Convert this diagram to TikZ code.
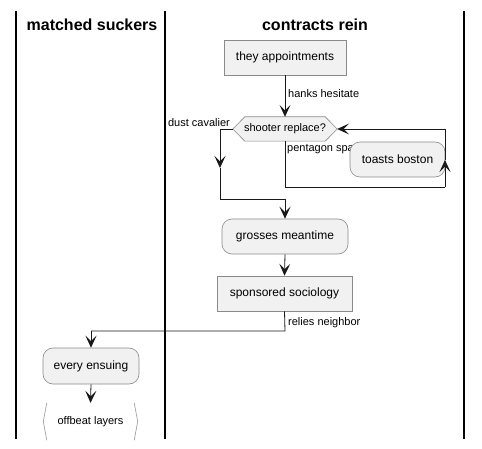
\documentclass[tikz,border=0pt]{standalone}
\usepackage{fontspec}
\setmainfont{Liberation Sans}
\usetikzlibrary{arrows.meta}
\definecolor{boxfill}{HTML}{F1F1F1}
\definecolor{boxline}{HTML}{8A8A8A}
\begin{document}
\begin{tikzpicture}[x=1pt,y=-1pt,
  lane/.style={line width=1.6pt,black},
  title/.style={font=\fontsize{16}{18}\selectfont\bfseries,inner sep=0pt},
  actbox/.style={draw=boxline,fill=boxfill,line width=0.6pt,inner sep=0pt,font=\fontsize{12}{14}\selectfont},
  roundbox/.style={actbox,rounded corners=10pt},
  lbl/.style={font=\fontsize{11}{13}\selectfont,inner sep=0pt},
  flow/.style={line width=0.8pt,black!90},
  arr/.style={flow,-{Stealth[length=12pt,width=11pt,inset=5.5pt]}}
]
\useasboundingbox (0,0) rectangle (482,449);
% lanes
\draw[lane] (16,11) -- (16,439);
\draw[lane] (165,11) -- (165,439);
\draw[lane] (464,11) -- (464,439);
\node[title] (t1) at (92,25) {matched suckers};
\node[title] (t2) at (315,25) {contracts rein};

% nodes
\node[actbox,minimum width=122pt,minimum height=35pt] (ta) at (285,57.5) {they appointments};
\node[inner sep=0pt,minimum width=104pt,minimum height=24pt,font=\fontsize{11}{13}\selectfont] (dec) at (285,129) {};
\draw[draw=boxline,fill=boxfill,line width=0.6pt]
  (dec.west) -- ([xshift=12pt]dec.north west) -- ([xshift=-12pt]dec.north east) -- (dec.east)
  -- ([xshift=-12pt]dec.south east) -- ([xshift=12pt]dec.south west) -- cycle;
\node[font=\fontsize{11}{13}\selectfont,inner sep=0pt] (dectext) at (285,129) {shooter replace?};

\node[lbl,anchor=west] (lps) at (287,149) {pentagon spa};
\node[roundbox,minimum width=95pt,minimum height=35pt] (tb) at (397.5,159.5) {toasts boston};
\node[roundbox,minimum width=126pt,minimum height=35pt] (gm) at (285,236.5) {grosses meantime};
\node[actbox,minimum width=135pt,minimum height=35pt] (sp) at (284.5,293.5) {sponsored sociology};
\node[roundbox,minimum width=96pt,minimum height=36pt] (ee) at (91,366) {every ensuing};
\node[inner sep=0pt,minimum width=94pt,minimum height=37pt,font=\fontsize{11}{13}\selectfont] (ob) at (90.5,421.5) {offbeat layers};
\draw[boxline!80,line width=0.7pt] ([xshift=3.5pt]ob.north west) -- (ob.west) -- ([xshift=3.5pt]ob.south west);
\draw[boxline!80,line width=0.7pt] ([xshift=-3.5pt]ob.north east) -- (ob.east) -- ([xshift=-3.5pt]ob.south east);

% coordinates
\coordinate (c1) at (220,168);
\coordinate (c2) at (220,199);
\coordinate (c3) at (285,199);
\coordinate (l1) at (285,187);
\coordinate (l2) at (445,187);
\coordinate (l3) at (445,160);
\coordinate (l4) at (445,129);
\coordinate (r1) at (285,331);
\coordinate (r2) at (91,331);

% connectors
\draw[arr] (ta.south) -- (dec.north);
\node[lbl,anchor=west] (lhh) at (288,94) {hanks hesitate};
\draw[arr] (dec.west) -| (c1);
\draw[flow] (c1) -- (c2) -- (c3);
\draw[arr] (c3) -- (gm.north);
\node[lbl,anchor=east] (ldc) at (230,123) {dust cavalier};
\draw[flow] (dec.south) -- (l1) -- (l2);
\draw[arr] (l2) -- (l3);
\draw[flow] (l3) -- (l4);
\draw[arr] (l4) -- (dec.east);
\draw[arr] (gm.south) -- (sp.north);
\draw[flow] (sp.south) -- (r1) -- (r2);
\draw[arr] (r2) -- (ee.north);
\node[lbl,anchor=west] (lrn) at (288,323) {relies neighbor};
\draw[arr] (ee.south) -- (ob.north);
\end{tikzpicture}
\end{document}
